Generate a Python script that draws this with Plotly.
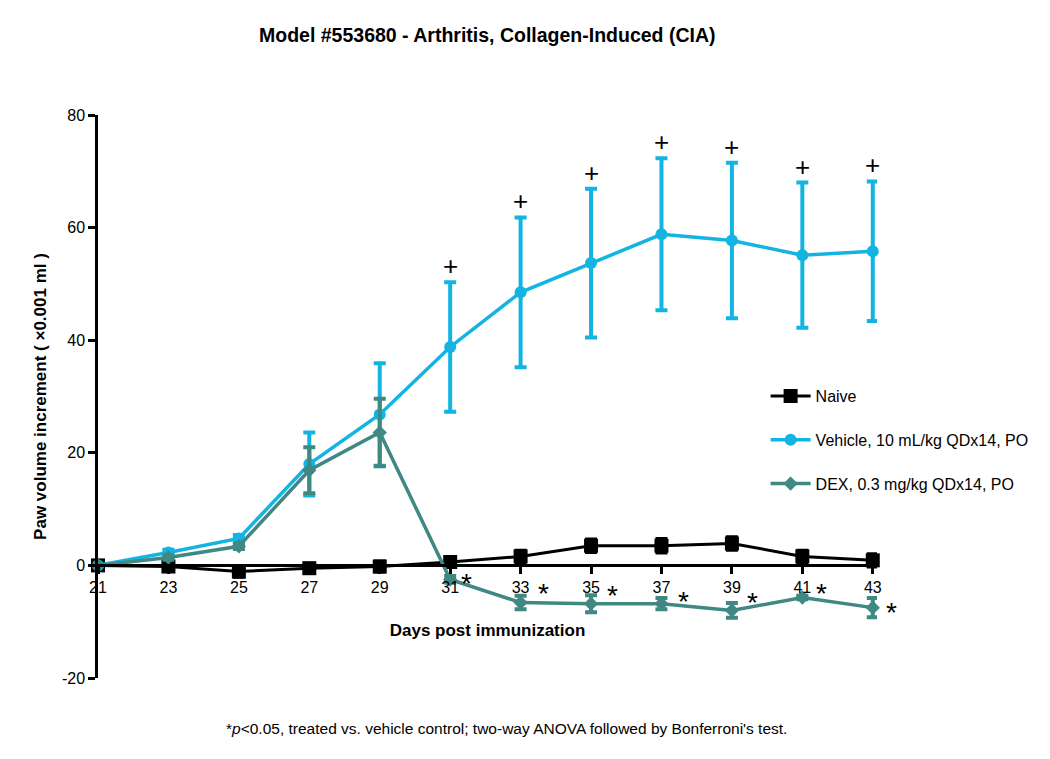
import plotly.graph_objects as go

# days post immunization
days = [21, 23, 25, 27, 29, 31, 33, 35, 37, 39, 41, 43]

naive = [0, -0.2, -1.1, -0.5, -0.2, 0.6, 1.6, 3.5, 3.5, 3.9, 1.6, 0.9]
naive_err = [0, 0.8, 0.9, 0.8, 0.9, 0.8, 1.0, 1.1, 1.2, 1.1, 1.0, 1.1]

vehicle = [0, 2.3, 4.8, 18.0, 26.8, 38.8, 48.5, 53.7, 58.8, 57.7, 55.1, 55.8]
vehicle_err = [0, 0.5, 0.6, 5.6, 9.1, 11.5, 13.3, 13.2, 13.5, 13.8, 12.9, 12.4]

dex = [0, 1.4, 3.4, 16.9, 23.6, -2.5, -6.6, -6.8, -6.8, -8.0, -5.7, -7.5]
dex_err = [0, 0.4, 0.5, 4.1, 6.0, 0.6, 1.2, 1.5, 1.0, 1.3, 0.3, 1.7]

y_ticks = [-20, 0, 20, 40, 60, 80]

# significance marks drawn from day 31 onwards
sig_days = days[5:]
# pixel nudges for the asterisks next to the DEX points (day 31..43)
star_dx = [16, 23, 21, 22, 21, 19, 19]
star_dy = [-4, 9, 8, 2, 8, 4, -5]

BLACK = "#000000"
BLUE = "#12b4e2"
TEAL = "#3f8884"
FONT = "Liberation Sans, Arial, sans-serif"

fig = go.Figure()

fig.add_trace(go.Scatter(
    x=days, y=naive, name="Naive", mode="lines+markers",
    line=dict(color=BLACK, width=3),
    marker=dict(symbol="square", size=14, color=BLACK),
    error_y=dict(type="data", array=naive_err, color=BLACK, thickness=4, width=6),
    legendgroup="a", cliponaxis=False,
))
fig.add_trace(go.Scatter(
    x=days, y=vehicle, name="Vehicle, 10 mL/kg QDx14, PO", mode="lines+markers",
    line=dict(color=BLUE, width=3.5),
    marker=dict(symbol="circle", size=12, color=BLUE),
    error_y=dict(type="data", array=vehicle_err, color=BLUE, thickness=4, width=6),
    legendgroup="b", cliponaxis=False,
))
fig.add_trace(go.Scatter(
    x=days, y=dex, name="DEX, 0.3 mg/kg QDx14, PO", mode="lines+markers",
    line=dict(color=TEAL, width=3.5),
    marker=dict(symbol="diamond", size=11, color=TEAL),
    error_y=dict(type="data", array=dex_err, color=TEAL, thickness=4, width=6),
    legendgroup="c", cliponaxis=False,
))

annotations = []
k = 0
for i, d in enumerate(days):
    if d not in sig_days:
        continue
    annotations.append(dict(
        x=d, y=vehicle[i] + vehicle_err[i], text="+", showarrow=False,
        yshift=16, font=dict(family=FONT, size=26, color=BLACK),
    ))
    annotations.append(dict(
        x=d, y=dex[i], text="*", showarrow=False,
        xshift=star_dx[k], yshift=star_dy[k], font=dict(family=FONT, size=28, color=BLACK),
    ))
    k += 1

annotations.append(dict(
    xref="paper", yref="paper", x=0.524, y=-0.089, yanchor="middle",
    text="*<i>p</i>&lt;0.05, treated vs. vehicle control; two-way ANOVA followed by Bonferroni's test.",
    showarrow=False, font=dict(family=FONT, size=15.5, color=BLACK),
))
annotations.append(dict(
    xref="paper", yref="paper", x=0.5, y=1.142, yanchor="middle",
    text="<b>Model #553680 - Arthritis, Collagen-Induced (CIA)</b>",
    showarrow=False, font=dict(family=FONT, size=19.5, color=BLACK),
))

fig.update_layout(
    width=1050, height=759,
    margin=dict(l=90, r=181, t=107, b=89),
    paper_bgcolor="white", plot_bgcolor="white",
    font=dict(family=FONT, size=16, color=BLACK),
    showlegend=True,
    legend=dict(
        x=0.857, y=0.531, xanchor="left", yanchor="top",
        font=dict(family=FONT, size=16), tracegroupgap=20,
        bgcolor="rgba(0,0,0,0)", itemwidth=40,
    ),
    xaxis=dict(
        range=[21, 43.12], tickvals=days, ticktext=[str(d) for d in days],
        showline=True, linecolor=BLACK, linewidth=2.5,
        ticks="outside", ticklen=7, tickwidth=2.5, tickcolor=BLACK,
        showgrid=False, zeroline=False,
        anchor="free", position=0.2,
        tickfont=dict(size=16),
        title=dict(text="<b>Days post immunization</b>", font=dict(size=17), standoff=28),
    ),
    yaxis=dict(
        range=[-20, 80], tickvals=y_ticks, ticktext=[str(v) for v in y_ticks],
        showline=True, linecolor=BLACK, linewidth=2.5,
        ticks="outside", ticklen=7, tickwidth=2.5, tickcolor=BLACK,
        showgrid=False, zeroline=False,
        tickfont=dict(size=16),
        title=dict(text="<b>Paw volume increment ( ×0.001 ml )</b>", font=dict(size=17), standoff=11),
    ),
    annotations=annotations,
)

fig.write_html("out.html")
